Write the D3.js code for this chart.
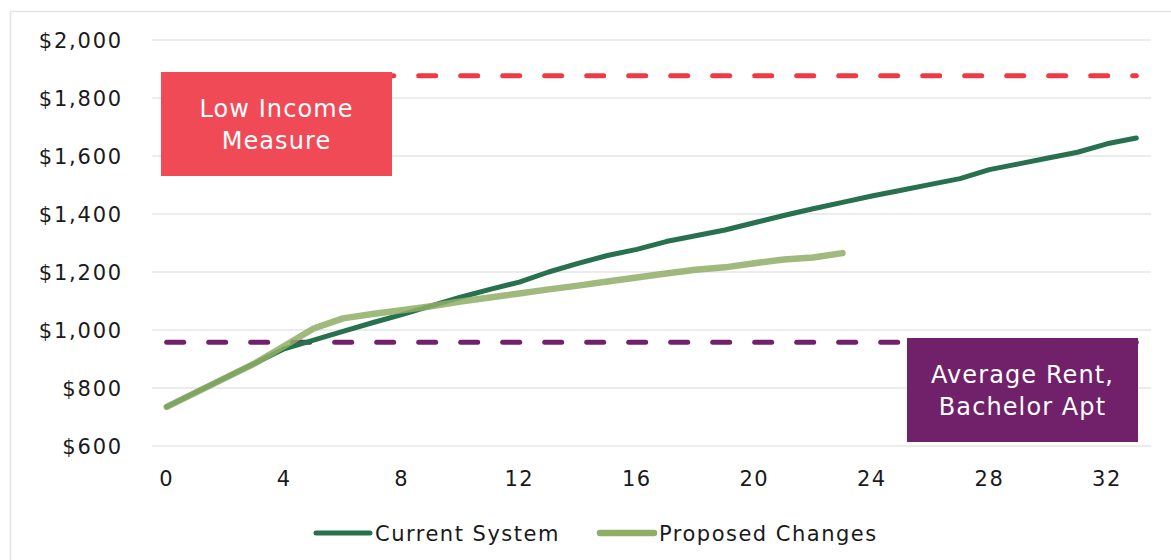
<html>
<head>
<script src="https://d3js.org/d3.v7.min.js"></script>
<style>
  body { margin: 0; background: #fff; }
  svg { font-family: "DejaVu Sans", Inter, sans-serif; }
</style>
</head>
<body>
<svg id="chart" width="1171" height="560"></svg>
<script>
// x categories (years), only every 4th is labelled
const years = [0,1,2,3,4,5,6,7,8,9,10,11,12,13,14,15,16,17,18,19,20,21,22,23,24,25,26,27,28,29,30,31,32,33];
const yTicks = [600, 800, 1000, 1200, 1400, 1600, 1800, 2000];
const xTickLabels = [0, 4, 8, 12, 16, 20, 24, 28, 32];

const currentSystem = [735,785,835,885,935,965,995,1025,1053,1083,1113,1140,1165,1200,1230,1257,1278,1305,1325,1345,1370,1395,1418,1440,1462,1482,1502,1522,1553,1573,1593,1613,1642,1662];
const proposedChanges = [735,785,835,885,945,1005,1040,1055,1068,1082,1098,1112,1126,1140,1153,1167,1181,1195,1208,1216,1230,1243,1250,1265];
const lowIncomeMeasure = 1877;
const averageRent = 958;

const svg = d3.select("#chart");

// chart border
svg.append("rect")
    .attr("x", 10.5).attr("y", 11.5)
    .attr("width", 1180).attr("height", 600)
    .attr("fill", "none")
    .attr("stroke", "#e3e3e3")
    .attr("stroke-width", 1.5);

const x = d3.scaleBand().domain(years).range([152, 1151]);
const y = d3.scaleLinear().domain([600, 2000]).range([446, 40]);
const cx = d => x(d) + x.bandwidth() / 2;

// gridlines
svg.append("g")
    .selectAll("line")
    .data(yTicks)
    .enter()
    .append("line")
    .attr("x1", 152).attr("x2", 1151)
    .attr("y1", d => y(d)).attr("y2", d => y(d))
    .attr("stroke", "#e6e6e6")
    .attr("stroke-width", 1.5);

// y labels
svg.append("g")
    .selectAll("text")
    .data(yTicks)
    .enter()
    .append("text")
    .attr("x", 123)
    .attr("y", d => y(d))
    .attr("dy", "0.36em")
    .attr("text-anchor", "end")
    .attr("font-size", 21)
    .attr("letter-spacing", 1.8)
    .attr("fill", "#1a1a1a")
    .text(d => "$" + d3.format(",")(d));

// x labels
svg.append("g")
    .selectAll("text")
    .data(xTickLabels)
    .enter()
    .append("text")
    .attr("x", d => cx(d))
    .attr("y", 478)
    .attr("dy", "0.36em")
    .attr("text-anchor", "middle")
    .attr("font-size", 21)
    .attr("letter-spacing", 1.5)
    .attr("fill", "#1a1a1a")
    .text(d => d);

// reference lines (dashed)
const flat = v => years.map(yr => ({ yr: yr, v: v }));
const refLine = d3.line().x(d => cx(d.yr)).y(d => y(d.v));

svg.append("path")
    .attr("d", refLine(flat(lowIncomeMeasure)))
    .attr("fill", "none")
    .attr("stroke", "#ee3a45")
    .attr("stroke-width", 5)
    .attr("stroke-linecap", "round")
    .attr("stroke-dasharray", "17,25");

svg.append("path")
    .attr("d", refLine(flat(averageRent)))
    .attr("fill", "none")
    .attr("stroke", "#71216b")
    .attr("stroke-width", 5)
    .attr("stroke-linecap", "round")
    .attr("stroke-dasharray", "17,25");

// series
const line = d3.line().x((d, i) => cx(years[i])).y(d => y(d));

svg.append("path")
    .attr("d", line(currentSystem))
    .attr("fill", "none")
    .attr("stroke", "#27714f")
    .attr("stroke-width", 5)
    .attr("stroke-linejoin", "round")
    .attr("stroke-linecap", "round");

svg.append("path")
    .attr("d", line(proposedChanges))
    .attr("fill", "none")
    .attr("stroke", "#8fae66")
    .attr("stroke-width", 6.5)
    .attr("stroke-opacity", 0.85)
    .attr("stroke-linejoin", "round")
    .attr("stroke-linecap", "round");

// callout boxes
function callout(x0, y0, w, h, fill, lines) {
    const g = svg.append("g").attr("transform", "translate(" + x0 + "," + y0 + ")");
    g.append("rect").attr("width", w).attr("height", h).attr("fill", fill);
    g.append("text")
        .attr("text-anchor", "middle")
        .attr("font-size", 24)
        .attr("letter-spacing", 1.1)
        .attr("fill", "#fff")
        .selectAll("tspan")
        .data(lines)
        .enter()
        .append("tspan")
        .attr("x", w / 2)
        .attr("y", (d, i) => h / 2 - 16 + i * 32)
        .attr("dy", "0.36em")
        .text(d => d);
}
callout(161, 72, 231, 104, "#ef4a56", ["Low Income", "Measure"]);
callout(907, 338, 231, 104, "#71216a", ["Average Rent,", "Bachelor Apt"]);

// legend
const legendItems = [
    { name: "Current System", color: "#27714f", width: 5, x: 316 },
    { name: "Proposed Changes", color: "#8fae66", width: 6.5, x: 600 }
];
const leg = svg.append("g")
    .selectAll("g")
    .data(legendItems)
    .enter()
    .append("g")
    .attr("transform", d => "translate(" + d.x + ",533)");
leg.append("line")
    .attr("x1", 0).attr("x2", 54)
    .attr("stroke", d => d.color)
    .attr("stroke-width", d => d.width)
    .attr("stroke-linecap", "round");
leg.append("text")
    .attr("x", 59)
    .attr("dy", "0.36em")
    .attr("font-size", 21)
    .attr("letter-spacing", 1.5)
    .attr("fill", "#1a1a1a")
    .text(d => d.name);
</script>
</body>
</html>
